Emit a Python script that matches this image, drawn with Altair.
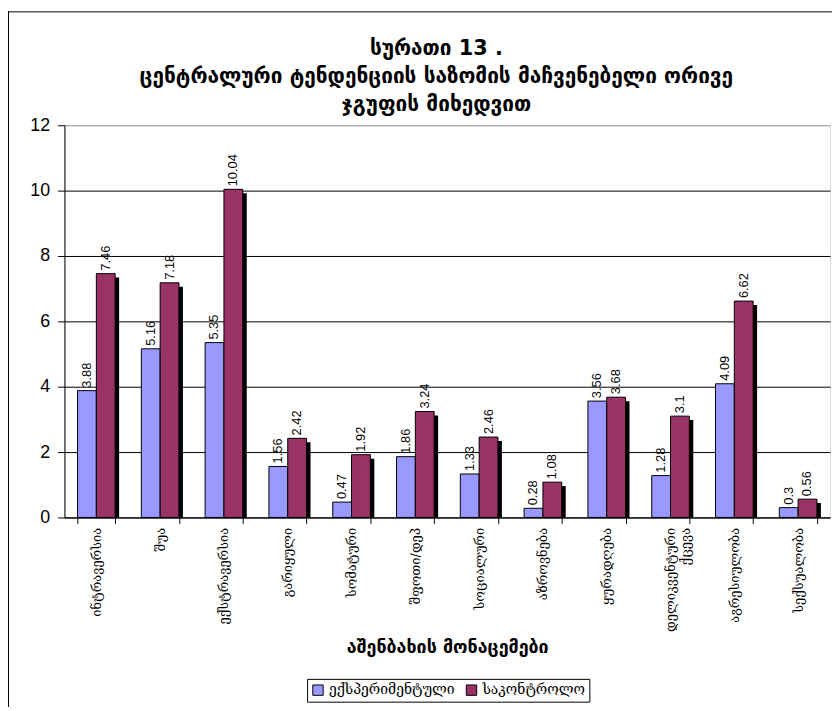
import altair as alt
import pandas as pd

categories = ["ინტრავერსია", "შუა", "ექსტრავერსია", "გარიყული", "სომატური",
              "შფოთი/დეპ", "სოციალური", "აზროვნება", "ყურადღება",
              "დელიკვენტური ქცევა", "აგრესიულობა", "სექსუალობა"]
series = ["ექსპერიმენტული", "საკონტროლო"]
experimental = [3.88, 5.16, 5.35, 1.56, 0.47, 1.86, 1.33, 0.28, 3.56, 1.28, 4.09, 0.3]
control = [7.46, 7.18, 10.04, 2.42, 1.92, 3.24, 2.46, 1.08, 3.68, 3.1, 6.62, 0.56]
y_ticks = [0, 2, 4, 6, 8, 10, 12]

title_lines = ["სურათი 13 .",
               "ცენტრალური ტენდენციის საზომის მაჩვენებელი ორივე",
               "ჯგუფის მიხედვით"]
x_title = "აშენბახის მონაცემები"

rows = []
for c, e, k in zip(categories, experimental, control):
    rows.append({"cat": c, "series": series[0], "value": e, "label": str(e)})
    rows.append({"cat": c, "series": series[1], "value": k, "label": str(k)})
df = pd.DataFrame(rows)

GEO = "DejaVu Sans"
GEO_SERIF = "DejaVu Serif"

W, H = 773, 396
x_scale = alt.Scale(paddingInner=0.41, paddingOuter=0.205)
band_w = 0.59 * W / 12.0

x_enc = alt.X("cat:N", sort=categories, scale=x_scale,
              axis=alt.Axis(title=x_title, labelAngle=-90, labelFont=GEO_SERIF,
                            labelFontSize=13, labelColor="black", labelPadding=4,
                            labelLimit=200, labelExpr="split(datum.label, ' ')",
                            labelLineHeight=15,
                            tickSize=6, tickColor="black", domainColor="black",
                            tickBand="extent",
                            titleFont=GEO, titleFontSize=18, titleFontWeight="bold",
                            titleColor="black", titleY=131, titleBaseline="middle"))
xoff_enc = alt.XOffset("series:N", sort=series,
                       scale=alt.Scale(type="band", paddingInner=0, paddingOuter=0))
xoff_shadow = alt.XOffset("series:N", sort=series,
                          scale=alt.Scale(type="band", paddingInner=0, paddingOuter=0,
                                          range=[4, 4 + band_w]))
y_enc = alt.Y("value:Q", scale=alt.Scale(domain=[0, 12], nice=False),
              axis=alt.Axis(title=None, values=y_ticks, labelFont="Liberation Sans",
                            labelFontSize=18, labelColor="black", labelPadding=8,
                            tickSize=7, tickColor="black", domainColor="black",
                            grid=True,
                            gridColor={"condition": {"test": "datum.value == 12", "value": "#999999"},
                                       "value": "black"},
                            gridOpacity=1))

base = alt.Chart(df)

shadow = base.mark_bar(color="black", yOffset=4, clip=True).encode(
    x=x_enc, xOffset=xoff_shadow, y=y_enc)

bars = base.mark_bar(stroke="black", strokeWidth=1).encode(
    x=x_enc, xOffset=xoff_enc, y=y_enc,
    color=alt.Color("series:N", sort=series,
                    scale=alt.Scale(domain=series, range=["#9999FF", "#993366"]),
                    legend=alt.Legend(title=None, orient="none", legendX=245, legendY=559,
                                      direction="horizontal", strokeColor="black",
                                      fillColor="white", padding=4,
                                      labelFont=GEO_SERIF, labelFontSize=14,
                                      labelColor="black", symbolType="square",
                                      symbolSize=110, symbolStrokeColor="black",
                                      symbolStrokeWidth=1, columnPadding=8,
                                      symbolOpacity=1)))

labels = base.mark_text(angle=270, align="left", baseline="middle", dx=3,
                        font="Liberation Sans", fontSize=13, color="black").encode(
    x=x_enc, xOffset=xoff_enc, y=y_enc, text="label:N")

frame_df = pd.DataFrame({"a": [0]})
left_rule = alt.Chart(frame_df).mark_rule(color="black", strokeWidth=1).encode(
    x=alt.value(-56.5), y=alt.value(-115), y2=alt.value(588))
top_rule = alt.Chart(frame_df).mark_rule(color="black", strokeWidth=1).encode(
    x=alt.value(-57), x2=alt.value(775), y=alt.value(-114.5))

chart = alt.layer(shadow, bars, labels, left_rule, top_rule).resolve_scale(
    xOffset="independent"
).properties(
    width=W, height=H,
    autosize=alt.AutoSizeParams(type="none"),
    padding={"left": 57, "top": 115, "right": 2, "bottom": 188},
    title=alt.TitleParams(text=title_lines, font=GEO, fontSize=21, fontWeight="bold",
                          anchor="middle", offset=-105, lineHeight=28, dx=-11,
                          frame="group", color="black"),
).configure_view(stroke="transparent").configure(background="white")

chart.save("out.html", embed_options={"renderer": "svg", "actions": False})
